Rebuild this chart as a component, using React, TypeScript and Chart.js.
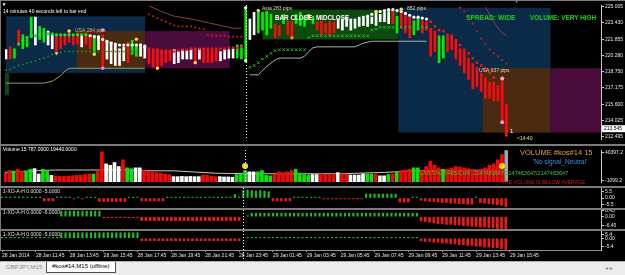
import React, { useEffect, useRef } from "react";
import { Chart, registerables } from "chart.js";

Chart.register(...registerables);

const FONT = '"Liberation Sans", "DejaVu Sans", Arial, sans-serif';
Chart.defaults.font.family = FONT;

// ================= time axis (15-minute bars, index 0 = 28 Jan 2014 09:45) =================
const xTickIndex = [0, 8, 16, 24, 32, 40, 48, 56, 64, 72, 80, 88, 96, 104, 112, 120];
const xTickLabels = [
  "28 Jan 2014", "28 Jan 11:45", "28 Jan 13:45", "28 Jan 15:45", "28 Jan 17:45", "28 Jan 19:45",
  "28 Jan 21:45", "28 Jan 23:45", "29 Jan 01:45", "29 Jan 03:45", "29 Jan 05:45", "29 Jan 07:45",
  "29 Jan 09:45", "29 Jan 11:45", "29 Jan 13:45", "29 Jan 15:45",
];
const daySeparators = [57];
const X_MIN = -0.24;
const X_MAX = 141.5;

// ================= price panel =================
const priceMin = 212.265;
const priceMax = 225.157;
const priceTicks = [225.005, 223.43, 221.855, 220.28, 218.75, 217.175, 215.6, 214.025, 212.495];
const lastPrice = 213.545;

const candleHigh = [
  220.86, 221.13, 220.95, 222.74, 222.29, 221.84, 223.99, 223.99, 223.10, 222.92,
  222.65, 222.29, 222.20, 222.29, 222.29, 222.65, 222.29, 222.47, 222.29, 222.47,
  222.29, 222.20, 222.20, 222.29, 221.58, 221.58, 221.31, 220.95, 221.13, 221.58,
  221.76, 221.40, 221.40, 221.31, 220.95, 220.86, 220.95, 220.86, 220.86, 220.86,
  220.86, 220.68, 220.86, 220.77, 220.86, 220.95, 220.95, 220.86, 220.86, 220.86,
  220.86, 220.68, 220.86, 220.86, 220.95, 221.31, 221.31, 224.89, 223.81, 224.44,
  224.71, 224.44, 224.53, 224.26, 223.37, 223.19, 224.26, 223.64, 223.55, 224.26,
  224.44, 223.99, 224.26, 223.99, 223.55, 223.64, 223.37, 223.55, 223.55, 223.81,
  223.81, 223.99, 223.81, 223.81, 223.99, 224.08, 223.99, 223.99, 224.26, 224.26,
  224.44, 224.53, 224.53, 224.08, 224.53, 224.26, 223.99, 223.64, 223.99, 223.64,
  223.55, 222.92, 222.65, 222.20, 222.20, 222.20, 222.29, 221.84, 220.95, 220.68,
  220.05, 219.52, 219.16, 218.62, 218.17, 217.73, 217.73, 217.37, 218.26, 215.58,
];
const candleLow = [
  219.96, 219.96, 220.05, 221.40, 220.95, 221.13, 222.02, 221.31, 221.84, 221.58,
  221.31, 220.95, 220.68, 220.95, 221.31, 221.58, 221.31, 221.40, 221.13, 221.40,
  220.95, 220.41, 220.86, 219.07, 219.96, 219.52, 219.34, 219.34, 219.79, 219.61,
  220.41, 220.23, 220.23, 220.05, 219.52, 219.16, 219.07, 219.34, 219.61, 219.79,
  219.52, 219.61, 219.96, 219.96, 219.96, 219.61, 219.96, 219.61, 219.61, 219.61,
  219.79, 219.79, 219.96, 220.05, 220.05, 220.05, 219.96, 219.79, 221.84, 222.29,
  222.47, 222.74, 222.29, 222.92, 222.02, 222.20, 223.37, 222.29, 221.84, 223.37,
  223.19, 223.10, 223.81, 223.37, 222.74, 222.29, 222.47, 222.20, 222.47, 222.92,
  222.74, 223.10, 222.74, 222.92, 223.10, 223.19, 223.10, 223.37, 223.19, 223.55,
  223.55, 223.37, 223.37, 222.47, 222.92, 222.47, 222.02, 222.29, 222.74, 222.47,
  222.74, 220.23, 220.68, 219.61, 220.05, 220.68, 220.86, 219.96, 219.34, 218.62,
  218.00, 217.10, 217.28, 216.83, 216.20, 216.20, 215.94, 215.94, 213.79, 212.53,
];
// G = up (green), R = down (red), W = neutral (white)
const candleColor =
  "WRGRGGGWGG" + "WWRRRRRRWR" + "RGWRWWWWWR" + "GGWWRRRRRR" + "WWWWWRWRRR" + "RWWWWGGGWW" +
  "GGGGRRGRRG" + "GGGGRRRRRW" + "WWWWWWWWWW" + "WWRGRRRGGR" + "RRRGGRRRRR" + "RRRRRRRRRR";

// boxes (session ranges): from/to bar index, top/bottom price
const zoneFrom = [-0.5, 0, 16.8, 33.1, 61, 93.3, 113.4, 129.5];
const zoneTo = [0.7, 33.1, 33.1, 53.2, 93.3, 129.5, 129.5, 141.5];
const zoneTop = [218.62, 224.08, 222.65, 222.65, 224.71, 224.89, 219.07, 219.07];
const zoneBottom = [216.47, 218.62, 219.07, 219.07, 221.84, 212.89, 212.89, 212.89];
const zoneKind = ["green", "blue", "brown", "purple", "green", "blue", "brown", "purple"];

type Pt = [number, number];
// middle moving-average dots
const midMaGreen: Pt[] = [
  [3, 221.40], [4, 221.76], [5, 222.02], [6, 222.20], [7, 222.20], [8, 222.29], [9, 222.38], [10, 222.38],
  [11, 222.38], [12, 222.29], [13, 222.29], [14, 222.29], [15, 222.29], [16, 222.29], [17, 222.29], [18, 222.29], [19, 222.29],
];
const midMaWhite: Pt[] = [
  [20, 222.20], [21, 222.11], [22, 222.02], [23, 221.84], [24, 221.67], [25, 221.49], [26, 221.40], [27, 221.31],
  [28, 221.31], [29, 221.31], [30, 221.31], [31, 221.31], [32, 221.31], [33, 221.13],
  [86, 224.08], [87, 224.26], [88, 224.44], [89, 224.53], [90, 224.62], [91, 224.71], [92, 224.71], [93, 224.62],
  [94, 224.53], [95, 224.35], [96, 224.17], [97, 223.99], [98, 223.99], [99, 223.90], [100, 223.81],
];
const midMaRed: Pt[] = [
  [34, 220.95], [35, 220.86], [36, 220.77], [37, 220.68], [38, 220.68], [39, 220.68], [40, 220.68], [41, 220.77],
  [42, 220.86], [43, 220.86], [44, 220.95], [45, 220.95], [46, 220.95], [47, 220.95], [48, 220.95], [49, 220.95],
  [50, 220.95], [51, 220.95], [52, 220.95], [53, 221.04], [54, 221.04], [55, 221.04], [56, 221.13],
  [101, 223.55], [102, 223.10], [103, 222.74], [104, 222.65], [105, 222.29], [106, 222.02], [107, 221.76], [108, 221.31],
  [109, 220.86], [110, 220.50], [111, 220.05], [112, 219.61], [113, 219.34], [114, 219.07], [115, 218.62], [116, 218.17],
];
// upper band dots
const upperRed: Pt[] = [
  [34, 224.26], [35, 224.08], [36, 223.90], [37, 223.72], [38, 223.55], [39, 223.37], [40, 223.19], [41, 223.10],
  [42, 223.10], [43, 223.10], [44, 223.10], [45, 223.01], [46, 222.92], [47, 222.83], [48, 222.29], [49, 222.20],
  [50, 222.20], [51, 222.20], [52, 222.20], [53, 222.11], [54, 222.11], [55, 222.11], [56, 222.11],
  [108, 224.89], [109, 224.53], [110, 224.08], [111, 223.37], [112, 222.65], [113, 221.93], [114, 221.40], [115, 220.86],
  [116, 220.50], [117, 220.23], [118, 219.87], [119, 219.52],
];
const brownLeft: Pt[] = [[34, 225.07], [37, 224.53], [40, 224.08], [44, 223.81], [47, 223.55], [50, 223.28], [54, 222.92], [56, 222.92]];
const brownRight: Pt[] = [[114, 224.98], [116, 223.55], [117, 222.92], [118, 222.47], [119, 222.20]];
const oliveLine: Pt[] = [[0, 217.64], [9, 217.64], [11, 217.82], [13, 218.35], [14, 218.80], [15, 219.07], [33, 219.07]];
const grayLine: Pt[] = [
  [58, 218.44], [60, 218.44], [62, 219.25], [64, 219.87], [65, 220.05], [70, 220.05], [71, 220.23], [72, 220.68],
  [73, 221.04], [74, 221.13], [83, 221.13], [84, 221.31], [85, 221.49], [86, 221.58], [87, 221.67], [100, 221.67],
];
const lowerGreenDots: Pt[] = [
  [0, 218.89], [1, 218.98], [2, 219.16], [3, 219.34], [4, 219.43], [5, 219.61], [6, 219.70], [7, 219.79], [8, 219.96],
  [9, 220.05], [10, 220.23], [11, 220.41], [12, 220.50], [13, 220.59], [14, 220.68], [15, 220.68], [16, 220.68],
  [17, 220.68], [18, 220.68], [19, 220.68], [20, 220.68], [21, 220.68], [22, 220.68], [23, 220.68], [24, 220.68],
  [25, 220.68], [26, 220.68], [27, 220.68], [28, 220.68], [29, 220.68], [30, 220.68], [31, 220.68],
];
const greenCross: Pt[] = [
  [58, 219.16], [59, 219.34], [60, 219.61], [61, 219.96], [62, 220.23], [63, 220.50], [64, 220.77], [65, 220.86],
  [66, 220.86], [67, 220.86], [68, 220.86], [69, 220.86], [70, 220.86], [71, 220.86], [72, 222.02], [73, 222.20],
  [74, 222.20], [75, 222.20], [76, 222.20], [77, 222.20], [78, 222.20], [79, 222.20], [80, 222.20], [81, 222.20],
  [82, 222.20], [83, 222.20], [84, 222.20], [85, 222.20], [86, 222.20], [87, 222.74], [88, 222.83], [89, 223.01],
  [90, 223.01], [91, 223.01], [92, 223.01], [93, 223.01], [94, 223.01], [95, 223.01], [96, 223.01], [97, 223.01],
  [98, 223.01], [99, 223.01], [100, 223.01],
];
const markYellow: Pt[] = [[15, 222.65], [31, 221.87], [21, 220.41], [45, 219.61], [60, 224.62], [72, 224.11], [88, 224.53], [94, 224.75], [36, 219.07]];
const markViolet: Pt[] = [[23, 222.74], [23, 219.07]];
const markWhite: Pt[] = [[57, 224.89], [57, 219.79]];
const markPink: Pt[] = [[118, 218.08], [118, 213.88]];
const markOrange: Pt[] = [[68, 222.02]];
const markArrowDown: Pt[] = [[12, 220.50]];

// ================= volume panel =================
const volMin = -3491;
const volMax = 44344;
const volTicks = [40397.2, -1099.2];
const volume = [
  9662, 13608, 12890, 15641, 12412, 12890, 15641, 16478, 8466, 15641,
  12890, 6433, 5715, 4878, 4878, 5237, 5715, 6433, 6911, 7629,
  8466, 8466, 13608, 41593, 23654, 21621, 25568, 19588, 29634, 17674,
  16478, 17674, 17674, 13608, 12412, 11694, 10499, 9662, 8466, 7629,
  4519, 4519, 4878, 4519, 4878, 4519, 4519, 6911, 6433, 5237,
  4519, 4519, 4041, 4041, 3682, 7629, 8466, 13608, 11694, 11694,
  11694, 13608, 6433, 5715, 8466, 11694, 10499, 11694, 13608, 15641,
  9662, 7629, 6911, 7629, 7629, 8824, 7629, 7629, 8466, 10499,
  8466, 8466, 6911, 6911, 6911, 8466, 8466, 8466, 8466, 5715,
  5715, 7629, 8466, 11694, 13608, 14445, 15641, 17674, 17674, 13608,
  19588, 27601, 21621, 17674, 15641, 15641, 17674, 19588, 18871, 17674,
  16478, 14804, 13608, 15641, 17674, 21621, 23654, 29634, 37527, 43507,
];
// G up, R down, W neutral, S current (unfinished) bar
const volumeColor =
  "RRGRRGGWWG" + "GWRRRRRRRR" + "RGRRWWWWRG" + "GWWRRRRRRR" + "WWWWWWWRRR" + "RWWWWGGGWW" +
  "GGGGRRRRRG" + "GGGWWRRRRW" + "RRWWWWGGRW" + "WGRGRRRGGR" + "RRRRGRRRRR" + "RRRRRRRRRS";
const volAverage: Pt[] = [
  [0, 10857], [8, 13608], [12, 14445], [20, 14445], [28, 14445], [33, 13249], [40, 13249], [50, 9662],
  [58, 8824], [70, 8824], [80, 8824], [90, 10857], [99, 13608], [119, 14445],
];
const volSignals: Pt[] = [[57, 20424], [118, 20424]];

// ================= oscillator panels (1-XO-A-H) =================
const osc1 = [
  0.8, 0.8, 0.8, 0.8, 0.8, 0.8, 0.8, 0.8, 0.8, 0.8,
  -2.5, -2.5, -2.5, 0.8, 0.8, 0.8, 0.8, -0.8, 0.8, -0.8,
  0.8, 0.8, 0.8, -3, -3, -3, -3, -3, -3, -3,
  0.8, 0.8, 0.8, -2.5, -2.5, -2.5, -2.5, -2.5, -2.5, 0.8,
  0.8, 0.8, 0.8, 0.8, 0.8, 0.8, 0.8, 0.8, 0.8, 0.8,
  0.8, 0.8, 0.8, 0.8, 0.8, 3, 0.8, 6.5, 7, 6.5,
  6, 6.5, 6, 5.5, -2.5, -2.5, -2.5, -2.5, -2.5, 0.8,
  0.8, 0.8, 0.8, 0.8, 0.8, 0.8, -0.8, -0.8, -0.8, -0.8,
  -0.8, -0.8, -0.8, -0.8, -0.8, -0.8, 3.5, 3.5, 3.5, 3.5,
  3.5, 3.5, 3.5, 3.5, -3.5, -3.5, -3.5, 0.8, 0.8, -2,
  -2.5, -3, -3, -3.5, -4, -4, -4.5, -4.5, -5, -5,
  -5.5, -5.5, 0.8, -4, -4.5, -5, -5.5, -6, -6.5, -7.5,
];
const osc2: (number | null)[] = [
  null, null, null, null, null, null, null, null, null, null,
  null, null, null, null, 4, 4, 4, 4, 4, 4,
  4, 4, 4, 4, -0.7, -0.7, -0.7, -0.7, -0.7, -0.7,
  -0.7, -0.7, -0.7, -2.8, -2.8, -2.8, -2.8, -2.8, -2.8, -2.8,
  -2.8, -2.8, -2.8, -2.8, -2.8, -2.8, -2.8, -2.8, -2.8, -2.8,
  -2.8, -2.8, -2.8, -2.8, -2.8, -2.8, -2.8, null, 0.7, 2.5,
  2.5, 2.5, 2.5, 2.5, 2.5, 2.5, 2.5, 2.5, 2.5, 2.5,
  2.5, 2.5, 2.5, 2.5, 2.5, 2.5, 2.5, 2.5, 2.5, 2.5,
  2.5, 2.5, 2.5, 2.5, 2.5, 2.5, 2.5, 2.5, 2.5, 2.5,
  2.5, 2.5, 2.5, 2.5, 2.5, 2.5, 2.5, 2.5, 2.5, -3,
  -3.5, -4, -4.5, -5, -5, -5.5, -5.5, -6, -6, -6.5,
  -6.5, -7, -7, -7.5, -7.5, -8, -8, -8.5, -8.5, -9,
];
const osc3: (number | null)[] = [
  0.6, 0.6, 0.6, 0.6, 0.6, 0.6, 0.6, 0.6, 0.6, 0.6,
  0.6, 0.6, 0.6, 0.6, 3.5, 3.5, 3.5, 3.5, 3.5, 3.5,
  3.5, 3.5, 3.5, 3.5, 3.5, 3.5, 3.5, 3.5, 3.5, 3.5,
  3.5, 3.5, 3.5, -1.5, -1.5, -1.5, -1.5, -1.5, -1.5, -1.5,
  -1.5, -1.5, -1.5, -1.5, -1.5, -1.5, -1.5, -1.5, -1.5, -1.5,
  -1.5, -1.5, -1.5, -1.5, -1.5, -1.5, -1.5, null, 0.6, 0.6,
  0.6, 0.6, 0.6, 0.6, 0.6, 0.6, 0.6, 0.6, 0.6, 0.6,
  0.6, 0.6, 0.6, 0.6, 0.6, 0.6, 0.6, 0.6, 0.6, 0.6,
  0.6, 0.6, 0.6, 0.6, 0.6, 0.6, 0.6, 0.6, 0.6, 0.6,
  0.6, 0.6, 0.6, 0.6, 0.6, 0.6, 0.6, 0.6, 0.6, -1.5,
  -2, -2, -2.5, -2.5, -3, -3, -3.5, -3.5, -4, -4,
  -4.5, -4.5, -5, -5, -5.5, -5.5, -6, -6, -6.5, -7,
];
const osc1Range = [-8.73, 8.73];
const osc2Range = [-8.82, 4.8];
const osc3Range = [-7.36, 4.6];
const osc1Ticks = [5.5, 0, -5.5];
const osc2Ticks = [4.09, 0, -6.45];
const osc3Ticks = [2.58, 0, -5.4];
const osc1Labels = ["5.5", "0.00", "-5.5"];
const osc2Labels = ["6.45", "0.00", "-6.45"];
const osc3Labels = ["5.4", "0.00", "-5.4"];

// ================= styles =================
const CANDLE_COLORS: Record<string, string> = { G: "#00f000", R: "#ff0a0a", W: "#ffffff" };
const VOL_COLORS: Record<string, string> = { G: "#10e010", R: "#ee0a0a", W: "#ffffff", S: "#a4a4ac" };
const ZONE_COLORS: Record<string, string> = { blue: "#0b2a48", brown: "#4a2b12", purple: "#4a0c3c", green: "#0d4a0d" };
const AXIS_COLOR = "#c8c8c8";
const LABEL_COLOR = "#e6e6e6";

type TextItem = { x: number; y: number; text: string; color: string; size: number; bold?: boolean };
const mainTexts: TextItem[] = [
  { x: 1.5, y: 5, text: "\u25BC", color: "#ffffff", size: 5 },
  { x: 514, y: 1.5, text: "\u25BC", color: "#9a9a9a", size: 5 },
  { x: 3, y: 12, text: "14 minutes 40 seconds left to bar end", color: "#ffffff", size: 5 },
  { x: 75, y: 31, text: "USA 284 pips", color: "#d8b078", size: 5 },
  { x: 262, y: 9, text: "Asia 283 pips", color: "#e6d6b8", size: 5 },
  { x: 275, y: 18, text: "BAR CLOSE: MIDCLOSE", color: "#ffffff", size: 6.3, bold: true },
  { x: 407, y: 9, text: "852 pips", color: "#e6d6b8", size: 5 },
  { x: 466, y: 18, text: "SPREAD: WIDE", color: "#22cc22", size: 6.7, bold: true },
  { x: 530, y: 18, text: "VOLUME: VERY HIGH", color: "#22cc22", size: 6.4, bold: true },
  { x: 479, y: 71, text: "USA 637 pips", color: "#e6d6b8", size: 5 },
  { x: 510, y: 131, text: "1", color: "#ffffff", size: 6 },
  { x: 517, y: 139, text: "<14:40", color: "#f0e070", size: 5 },
];
const volTexts: TextItem[] = [
  { x: 3, y: 149.5, text: "Volume 15 787.0000 19440.0000", color: "#ffffff", size: 5 },
  { x: 520, y: 153, text: "VOLUME #kos#14 15", color: "#d9a441", size: 7.5 },
  { x: 533, y: 162.5, text: "'No signal_Neutral'", color: "#3d8fd6", size: 6.5 },
  { x: 420, y: 173, text: "LAST/AVR/485/CUR: 2147483647/2147483647/2147483647", color: "#3cc43c", size: 5.5 },
  { x: 502, y: 182.5, text: "THE VOLUME IS BELOW AVERAGE.", color: "#d01818", size: 5 },
];
const osc1Texts: TextItem[] = [{ x: 3, y: 191.5, text: "1-XO-A-H 0.0000 -5.0000", color: "#e0e0e0", size: 5 }];
const osc2Texts: TextItem[] = [{ x: 3, y: 213, text: "1-XO-A-H 0.0000 -6.0000", color: "#e0e0e0", size: 5 }];
const osc3Texts: TextItem[] = [{ x: 3, y: 235, text: "1-XO-A-H 0.0000 -5.0000", color: "#e0e0e0", size: 5 }];

const PANEL = {
  main: { top: 0, height: 144 },
  vol: { top: 146, height: 40 },
  osc1: { top: 188, height: 20 },
  osc2: { top: 210, height: 19 },
  osc3: { top: 231, height: 30 },
};

// ================= helpers =================
const pts = (arr: Pt[]) => arr.map(([x, y]) => ({ x, y }));

function pointsDs(data: Pt[], color: string, radius: number, style: any, order: number, extra: any = {}) {
  return {
    type: "line", data: pts(data), showLine: false, pointRadius: radius, pointStyle: style,
    pointBackgroundColor: color, pointBorderColor: color, pointBorderWidth: 0, order, ...extra,
  };
}
function lineDs(data: Pt[], color: string, order: number, width = 1) {
  return { type: "line", data: pts(data), borderColor: color, borderWidth: width, pointRadius: 0, tension: 0, order, fill: false };
}

function xScale(show = false): any {
  const base: any = { type: "linear", min: X_MIN, max: X_MAX, offset: false, grid: { offset: false } };
  if (!show) return { ...base, display: false };
  return {
    ...base,
    display: true,
    position: "bottom",
    afterBuildTicks: (s: any) => { s.ticks = xTickIndex.map((v) => ({ value: v })); },
    afterFit: (s: any) => { s.height = 11; s.paddingLeft = 0; s.paddingRight = 0; },
    ticks: {
      autoSkip: false, maxRotation: 0, minRotation: 0, align: "start", padding: 1,
      color: LABEL_COLOR, font: { size: 5, family: FONT },
      callback: (_v: any, i: number) => xTickLabels[i],
    },
    grid: { offset: false, display: true, drawOnChartArea: false, drawTicks: true, tickLength: 2, color: "#a0a0a0" },
    border: { display: true, color: "#909090" },
  };
}

function yScale(min: number, max: number, ticks: number[], fmt: (v: number, i: number) => string): any {
  return {
    position: "right", min, max, bounds: "data",
    afterFit: (s: any) => { s.width = 24; s.paddingTop = 0; s.paddingBottom = 0; },
    afterBuildTicks: (s: any) => { s.ticks = ticks.map((v) => ({ value: v })); },
    ticks: { autoSkip: false, padding: 1, color: LABEL_COLOR, font: { size: 5, family: FONT }, callback: (v: any, i: number) => fmt(Number(v), i) },
    grid: { display: true, drawOnChartArea: false, drawTicks: true, tickLength: 3, color: AXIS_COLOR },
    border: { display: true, color: AXIS_COLOR, width: 1 },
  };
}

function textPlugin(id: string, items: TextItem[], top: number) {
  return {
    id,
    afterDraw(chart: any) {
      const ctx = chart.ctx;
      ctx.save();
      ctx.textBaseline = "middle";
      ctx.textAlign = "left";
      for (const t of items) {
        ctx.font = `${t.bold ? "bold " : ""}${t.size}px ${FONT}`;
        ctx.fillStyle = t.color;
        ctx.fillText(t.text, t.x, t.y - top);
      }
      ctx.restore();
    },
  };
}

function separatorPlugin(id: string, toCanvasBottom: boolean) {
  return {
    id,
    afterDatasetsDraw(chart: any) {
      const { ctx, chartArea, scales } = chart;
      ctx.save();
      ctx.strokeStyle = "#ffffff";
      ctx.lineWidth = 1;
      ctx.setLineDash([1, 2]);
      for (const i of daySeparators) {
        const x = Math.round(scales.x.getPixelForValue(i)) + 0.5;
        ctx.beginPath();
        ctx.moveTo(x, chartArea.top);
        ctx.lineTo(x, toCanvasBottom ? chart.height : chartArea.bottom);
        ctx.stroke();
      }
      ctx.restore();
    },
  };
}

const zonePlugin = {
  id: "zones",
  beforeDatasetsDraw(chart: any) {
    const { ctx, chartArea, scales } = chart;
    ctx.save();
    ctx.beginPath();
    ctx.rect(chartArea.left, chartArea.top, chartArea.width, chartArea.height);
    ctx.clip();
    zoneFrom.forEach((from, k) => {
      const x0 = scales.x.getPixelForValue(from);
      const x1 = scales.x.getPixelForValue(zoneTo[k]);
      const y0 = scales.y.getPixelForValue(zoneTop[k]);
      const y1 = scales.y.getPixelForValue(zoneBottom[k]);
      ctx.fillStyle = ZONE_COLORS[zoneKind[k]];
      ctx.fillRect(x0, y0, x1 - x0, y1 - y0);
    });
    ctx.restore();
  },
};

const lastPricePlugin = {
  id: "lastPrice",
  afterDraw(chart: any) {
    const { ctx, chartArea, scales } = chart;
    const y = scales.y.getPixelForValue(lastPrice);
    ctx.save();
    ctx.fillStyle = "#ffffff";
    ctx.fillRect(chartArea.right + 1, y - 0.5, 23, 7);
    ctx.fillStyle = "#000000";
    ctx.font = `5px ${FONT}`;
    ctx.textBaseline = "middle";
    ctx.fillText(lastPrice.toFixed(3), chartArea.right + 3, y + 3);
    ctx.restore();
  },
};

const commonOptions = (scales: any) => ({
  responsive: false,
  animation: false,
  events: [],
  layout: { padding: { left: 1, right: 0, top: 0, bottom: 0 } },
  plugins: { legend: { display: false }, tooltip: { enabled: false }, title: { display: false } },
  scales,
});

function mainConfig(): any {
  const candles = candleHigh.map((h, i) => ({ x: i, y: [candleLow[i], h] }));
  return {
    type: "bar",
    data: {
      datasets: [
        pointsDs(markYellow, "#f4e040", 1.7, "circle", 0),
        pointsDs(markViolet, "#c890ff", 1.8, "circle", 0),
        pointsDs(markWhite, "#f0f0f0", 1.7, "circle", 0),
        pointsDs(markPink, "#ff9ad0", 2, "circle", 0),
        pointsDs(markOrange, "#e09030", 1.6, "circle", 0),
        pointsDs(markArrowDown, "#f4e040", 2.2, "triangle", 0, { pointRotation: 180 }),
        pointsDs(midMaWhite, "#ffffff", 1.6, "circle", 1),
        pointsDs(midMaGreen, "#22e022", 1.6, "circle", 1),
        pointsDs(midMaRed, "#ee1a1a", 1.7, "rect", 1),
        pointsDs(upperRed, "#c81c1c", 1.3, "rect", 2),
        pointsDs(lowerGreenDots, "#149a14", 1.1, "rect", 3),
        { ...pointsDs(greenCross, "#30b030", 1.8, "crossRot", 3), pointBorderWidth: 1 },
        lineDs(brownLeft, "#8a4040", 4),
        lineDs(brownRight, "#8a4040", 4),
        lineDs(oliveLine, "#8fa050", 4),
        lineDs(grayLine, "#a8b4a8", 4),
        {
          type: "bar", data: candles, order: 5, barThickness: 2, grouped: false,
          backgroundColor: candleColor.split("").map((c) => CANDLE_COLORS[c]), borderWidth: 0,
        },
      ],
    },
    options: commonOptions({
      x: xScale(false),
      y: yScale(priceMin, priceMax, priceTicks, (v) => v.toFixed(3)),
    }),
    plugins: [zonePlugin, separatorPlugin("sepMain", false), textPlugin("txtMain", mainTexts, PANEL.main.top), lastPricePlugin],
  };
}

function volConfig(): any {
  return {
    type: "bar",
    data: {
      datasets: [
        pointsDs(volSignals, "#ffe000", 3, "circle", 0),
        {
          type: "bar", data: volume.map((v, i) => ({ x: i, y: v })), order: 1, barThickness: 3, grouped: false,
          base: volMin, backgroundColor: volumeColor.split("").map((c) => VOL_COLORS[c]), borderWidth: 0,
        },
        lineDs(volAverage, "#d4c8ae", 2),
      ],
    },
    options: commonOptions({
      x: xScale(false),
      y: yScale(volMin, volMax, volTicks, (v) => v.toFixed(1)),
    }),
    plugins: [separatorPlugin("sepVol", false), textPlugin("txtVol", volTexts, PANEL.vol.top)],
  };
}

function oscConfig(values: (number | null)[], range: number[], ticks: number[], labels: string[], texts: TextItem[], top: number, showX: boolean, key: string): any {
  const pos = values.map((v, i) => ({ x: i, y: v !== null && v > 0 ? v : null }));
  const neg = values.map((v, i) => ({ x: i, y: v !== null && v < 0 ? v : null }));
  return {
    type: "bar",
    data: {
      datasets: [
        { type: "bar", data: pos, barThickness: 1.5, grouped: false, backgroundColor: "#22b822", borderWidth: 0, order: 1 },
        { type: "bar", data: neg, barThickness: 2, grouped: false, backgroundColor: "#e81a1a", borderWidth: 0, order: 1 },
      ],
    },
    options: commonOptions({
      x: xScale(showX),
      y: yScale(range[0], range[1], ticks, (_v, i) => labels[i]),
    }),
    plugins: [separatorPlugin("sep" + key, showX), textPlugin("txt" + key, texts, top)],
  };
}

export default function App() {
  const mainRef = useRef<HTMLCanvasElement>(null);
  const volRef = useRef<HTMLCanvasElement>(null);
  const o1Ref = useRef<HTMLCanvasElement>(null);
  const o2Ref = useRef<HTMLCanvasElement>(null);
  const o3Ref = useRef<HTMLCanvasElement>(null);

  useEffect(() => {
    const charts = [
      new Chart(mainRef.current as HTMLCanvasElement, mainConfig()),
      new Chart(volRef.current as HTMLCanvasElement, volConfig()),
      new Chart(o1Ref.current as HTMLCanvasElement, oscConfig(osc1, osc1Range, osc1Ticks, osc1Labels, osc1Texts, PANEL.osc1.top, false, "o1")),
      new Chart(o2Ref.current as HTMLCanvasElement, oscConfig(osc2, osc2Range, osc2Ticks, osc2Labels, osc2Texts, PANEL.osc2.top, false, "o2")),
      new Chart(o3Ref.current as HTMLCanvasElement, oscConfig(osc3, osc3Range, osc3Ticks, osc3Labels, osc3Texts, PANEL.osc3.top, true, "o3")),
    ];
    return () => charts.forEach((c) => c.destroy());
  }, []);

  const cv = (p: { top: number; height: number }): React.CSSProperties => ({ position: "absolute", left: 0, top: p.top, width: 625, height: p.height });
  const hline = (top: number, h: number): React.CSSProperties => ({ position: "absolute", left: 0, top, width: 625, height: h, background: "#7c7c7c" });

  return (
    <div style={{ position: "fixed", left: 0, top: 0, width: 625, height: 275, background: "#000", overflow: "hidden", fontFamily: FONT }}>
      <canvas ref={mainRef} width={625} height={PANEL.main.height} style={cv(PANEL.main)} />
      <canvas ref={volRef} width={625} height={PANEL.vol.height} style={cv(PANEL.vol)} />
      <canvas ref={o1Ref} width={625} height={PANEL.osc1.height} style={cv(PANEL.osc1)} />
      <canvas ref={o2Ref} width={625} height={PANEL.osc2.height} style={cv(PANEL.osc2)} />
      <canvas ref={o3Ref} width={625} height={PANEL.osc3.height} style={cv(PANEL.osc3)} />
      <div style={hline(0, 1)} />
      <div style={hline(144, 2)} />
      <div style={hline(186, 2)} />
      <div style={hline(208, 2)} />
      <div style={hline(229, 2)} />
      <div style={{ position: "absolute", left: 0, top: 0, width: 1, height: 251, background: "#7c7c7c" }} />
      <div style={{ position: "absolute", left: 0, top: 261, width: 625, height: 14, background: "#ececec", borderTop: "1px solid #b0b0b0", boxSizing: "border-box" }}>
        <span style={{ position: "absolute", left: 6, top: 2, fontSize: 6, color: "#8a8a8a", whiteSpace: "nowrap" }}>GBPJPY,M15</span>
        <div style={{ position: "absolute", left: 46, top: 0, width: 70, height: 11, background: "#ffffff", border: "1px solid #505050", borderTop: "none", boxSizing: "border-box" }}>
          <span style={{ position: "absolute", left: 5, top: 1, fontSize: 6, color: "#000", whiteSpace: "nowrap" }}>#kos#14,M15 (offline)</span>
        </div>
        <span style={{ position: "absolute", left: 605, top: 2, fontSize: 6, color: "#909090", whiteSpace: "nowrap" }}>{"\u25C2 \u25B8"}</span>
      </div>
    </div>
  );
}
